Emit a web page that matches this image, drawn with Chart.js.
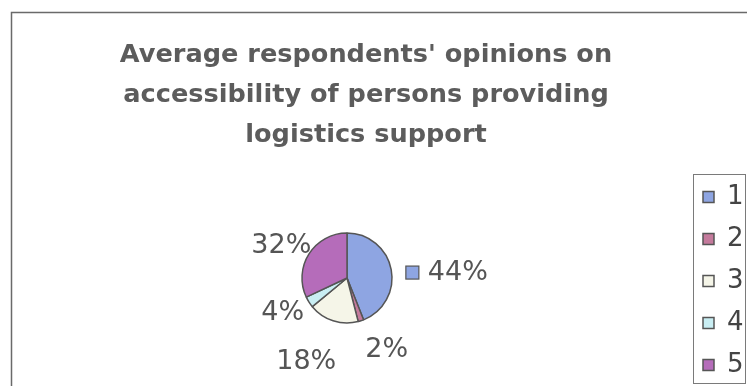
<!DOCTYPE html>
<html>
<head>
<meta charset="utf-8">
<script src="https://cdn.jsdelivr.net/npm/chart.js@4/dist/chart.umd.min.js"></script>
<style>
  html, body { margin: 0; padding: 0; background: #fff; overflow: hidden; }
  canvas { display: block; }
</style>
</head>
<body>
<!-- canvas runs a little past the bottom edge: the frame and legend box continue below -->
<canvas id="opinionChart" width="747" height="394"></canvas>
<script>
// Answer scale and share of respondents (%) per answer
var categories = ["1", "2", "3", "4", "5"];
var shares = [44, 2, 18, 4, 32];
var titleLines = [
    "Average respondents' opinions on",
    "accessibility of persons providing",
    "logistics support",
];

var sliceColors = ["#8ea5e2", "#c47a9c", "#f5f5e8", "#c9eef3", "#b56cba"];
var edgeColor = "#555555";
var textColor = "#555555";

// where each percentage label sits, measured from the pie centre
var labelSpots = [
    { dist: 111, turn: 8 },
    { dist: 82, turn: -11 },
    { dist: 93, turn: 8 },
    { dist: 73, turn: 4 },
    { dist: 73, turn: -6.5 },
];

// white page, outer frame and the three-line heading
var framePlugin = {
    id: "frame",
    beforeDraw: function (chart) {
        var ctx = chart.ctx;
        ctx.save();
        ctx.fillStyle = "#ffffff";
        ctx.fillRect(0, 0, chart.width, chart.height);
        ctx.strokeStyle = "#6a6a6a";
        ctx.lineWidth = 1.5;
        ctx.strokeRect(11.5, 12.5, chart.width + 20, chart.height + 20);

        ctx.fillStyle = "#5c5c5c";
        ctx.font = "bold 25.6px 'DejaVu Sans'";
        ctx.textAlign = "center";
        ctx.textBaseline = "alphabetic";
        titleLines.forEach(function (line, i) {
            ctx.fillText(line, 366, 62 + i * 40);
        });
        ctx.restore();
    },
    afterDraw: function (chart) {
        // box round the legend
        var lg = chart.legend;
        var ctx = chart.ctx;
        ctx.save();
        ctx.strokeStyle = "#7a7a7a";
        ctx.lineWidth = 1;
        ctx.strokeRect(lg.left + 6.5, lg.bottom - 219.5, 52, 209);
        ctx.restore();
    },
};

// percentage labels outside the slices
var pctLabelPlugin = {
    id: "pctLabels",
    afterDatasetsDraw: function (chart) {
        var ctx = chart.ctx;
        var arcs = chart.getDatasetMeta(0).data;
        var total = shares.reduce(function (a, b) { return a + b; }, 0);
        ctx.save();
        ctx.font = "27px 'DejaVu Sans'";
        ctx.fillStyle = textColor;
        ctx.textAlign = "center";
        ctx.textBaseline = "middle";
        arcs.forEach(function (arc, i) {
            var spot = labelSpots[i];
            var mid = (arc.startAngle + arc.endAngle) / 2 + spot.turn * Math.PI / 180;
            var x = arc.x + Math.cos(mid) * spot.dist;
            var y = arc.y + Math.sin(mid) * spot.dist;
            var text = Math.round(shares[i] / total * 100) + "%";
            ctx.fillText(text, x, y);
            if (i === 0) {
                // legend key beside the first label
                var w = ctx.measureText(text).width;
                var k = 13;
                var kx = x - w / 2 - 9 - k;
                ctx.fillStyle = sliceColors[0];
                ctx.fillRect(kx, y - k / 2, k, k);
                ctx.strokeStyle = edgeColor;
                ctx.lineWidth = 1.2;
                ctx.strokeRect(kx, y - k / 2, k, k);
                ctx.fillStyle = textColor;
            }
        });
        ctx.restore();
    },
};

var opinionChart = new Chart(document.getElementById("opinionChart"), {
    type: "pie",
    data: {
        labels: categories,
        datasets: [
            {
                data: shares,
                backgroundColor: sliceColors,
                borderColor: edgeColor,
                borderWidth: 1.5,
            },
        ],
    },
    options: {
        responsive: false,
        animation: false,
        radius: 45,
        layout: {
            padding: { left: 7, right: 0, top: 162, bottom: 0 },
        },
        plugins: {
            title: { display: false },
            legend: {
                position: "right",
                align: "end",
                maxWidth: 60,
                labels: {
                    boxWidth: 11,
                    boxHeight: 11,
                    padding: 16,
                    color: "#444444",
                    font: { family: "'DejaVu Sans'", size: 26 },
                },
            },
            tooltip: { enabled: false },
        },
    },
    plugins: [framePlugin, pctLabelPlugin],
});
</script>
</body>
</html>
